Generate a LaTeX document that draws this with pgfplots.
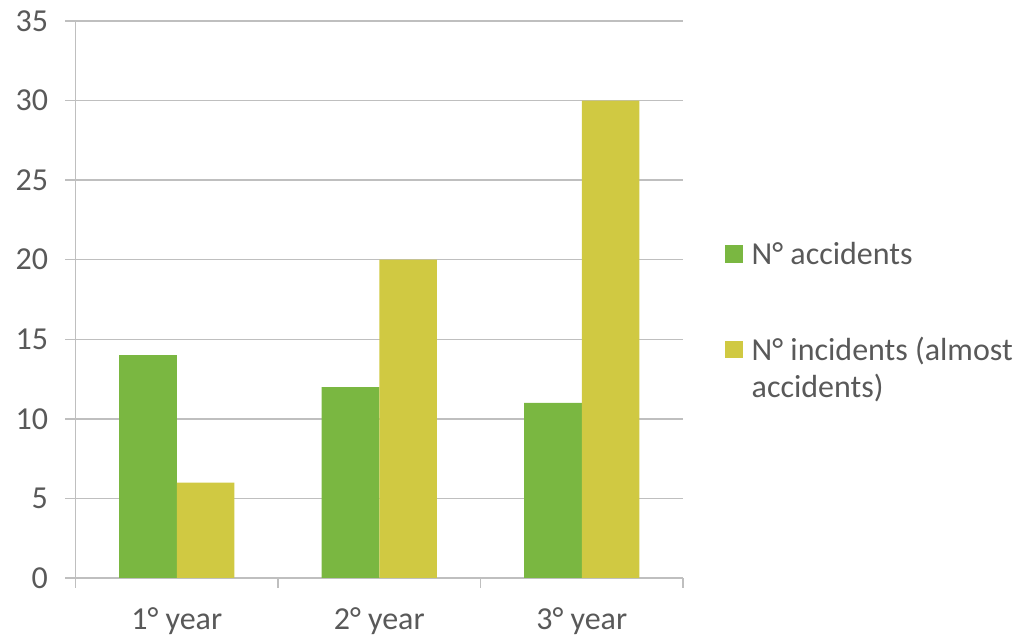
\documentclass[border=0pt]{standalone}
\usepackage{fontspec}
\setmainfont{Carlito}
\usepackage{pgfplots}
\pgfplotsset{compat=1.18}
\definecolor{cgreen}{HTML}{7AB741}
\definecolor{cyellow}{HTML}{D0C942}
\definecolor{ctext}{HTML}{595959}
\definecolor{cgrid}{HTML}{BFBFBF}
\pgfplotsset{
  upimage/.style={legend image code/.code={\fill[##1] (0pt,9.75pt) rectangle (17.5pt,27.25pt);}},
}
\begin{document}
\begin{tikzpicture}[x=1pt,y=1pt]
\useasboundingbox (0,0) rectangle (1019,636);
\begin{axis}[
  at={(75.5pt,58pt)}, anchor=south west,
  scale only axis, width=607.5pt, height=557pt,
  ybar=0pt, bar width=0.284,
  xmin=-0.5, xmax=2.5, ymin=0, ymax=35,
  ytick={0,5,...,35},
  xtick={0,1,2}, xticklabels={1° year,2° year,3° year},
  minor xtick={-0.5,0.5,1.5,2.5},
  axis x line*=bottom, axis y line*=left,
  axis line style={cgrid, line width=1.3pt, -},
  ymajorgrids, grid style={cgrid, line width=1.3pt},
  tick align=outside, major tick length=10pt, minor tick length=10pt,
  tick style={cgrid, line width=1.3pt},
  major x tick style={draw=none},
  /pgf/number format/assume math mode=true,
  tick label style={font=\fontsize{32}{38}\selectfont, text=ctext},
  yticklabel style={xshift=-14pt},
  xticklabel style={yshift=-16pt},
  legend image code/.code={\fill[#1] (0pt,-8.75pt) rectangle (17.5pt,8.75pt);},
  legend style={draw=none, fill=none, font=\fontsize{32}{37}\selectfont, text=ctext,
    at={(axis description cs:1,0.462)}, anchor=west, xshift=42pt,
    inner sep=0pt, nodes={inner sep=0pt}, column sep=9pt, row sep=71pt,
    cells={align=left}},
  legend cell align=left,
]
\addplot[fill=cgreen, draw=none] coordinates {(0,14) (1,12) (2,11)};
\addlegendentry{N° accidents}
\addplot[fill=cyellow, draw=none, upimage]
  coordinates {(0,6) (1,20) (2,30)};
\addlegendentry{N° incidents (almost\\accidents)}
\end{axis}
\end{tikzpicture}
\end{document}
